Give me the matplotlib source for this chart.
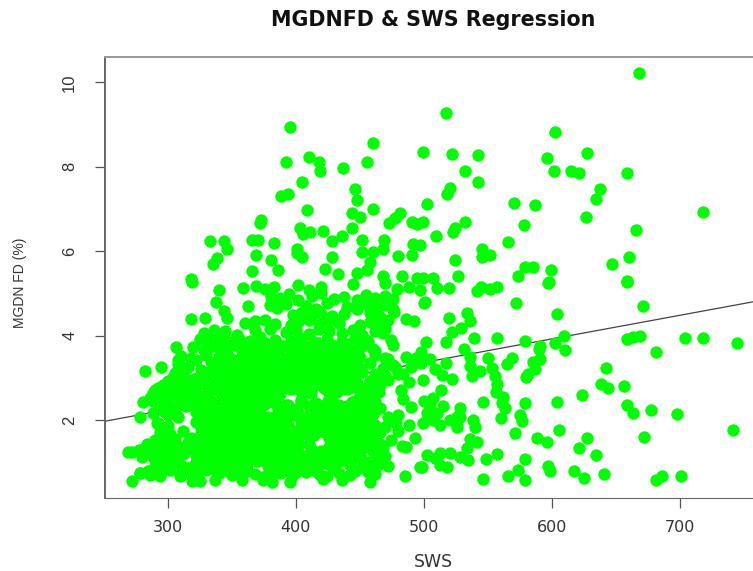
import matplotlib
matplotlib.use("Agg")
import matplotlib.pyplot as plt

plt.rcParams['font.family'] = ['Liberation Sans', 'DejaVu Sans']

X_TICKS = [300, 400, 500, 600, 700]
Y_TICKS = [2, 4, 6, 8, 10]

# regression line
FIT_INTERCEPT = 0.567
FIT_SLOPE = 0.00559

# sparse points, upper left part
sws_upper_left = [395.3, 460.6, 392.4, 410.1, 418.4, 419.0, 437.1, 455.6, 405.1, 394.2, 388.5, 446.5, 447.5,
                  408.5, 460.6, 444.2, 450.2, 481.4, 477.5, 473.0, 490.5, 494.4, 372.6, 372.1, 403.3, 406.0,
                  411.1, 421.5, 443.6, 435.8, 428.0, 451.5, 469.0, 333.0, 344.0, 346.0, 365.6, 370.8, 383.3,
                  491.8, 401.2, 400.7, 404.6, 369.0, 338.3, 335.1, 380.7, 385.9, 366.1, 428.0, 451.5, 460.6,
                  468.4, 480.1, 491.0, 458.0, 455.4, 422.8, 433.2, 447.6, 468.4, 482.7, 494.4, 318.0]
fd_upper_left = [8.93, 8.56, 8.11, 8.22, 8.12, 7.91, 7.96, 8.11, 7.63, 7.35, 7.31, 7.48, 7.20,
                 6.97, 7.00, 6.91, 6.82, 6.90, 6.79, 6.66, 6.68, 6.64, 6.74, 6.66, 6.54, 6.40,
                 6.45, 6.48, 6.54, 6.36, 6.25, 6.26, 6.27, 6.23, 6.25, 6.05, 6.27, 6.27, 6.19,
                 6.17, 6.05, 5.95, 5.85, 5.91, 5.83, 5.69, 5.79, 5.55, 5.53, 5.85, 5.99, 5.97,
                 6.05, 5.89, 5.91, 5.75, 5.55, 5.58, 5.46, 5.49, 5.40, 5.41, 5.36, 5.34]

# sparse points, upper right part
sws_upper_right = [668.2, 517.3, 602.6, 499.0, 522.2, 542.2, 627.3, 595.8, 532.3, 542.2, 601.3, 614.8, 621.3,
                   658.8, 637.7, 634.1, 520.4, 518.3, 502.4, 570.1, 587.0, 718.1, 626.3, 499.6, 532.1, 524.3,
                   523.0, 578.4, 665.6, 509.2, 565.4, 497.0, 545.1, 551.6, 545.6, 524.0, 660.4, 647.1, 579.0,
                   585.0, 599.5, 573.7, 526.4, 507.4, 499.6, 598.0, 658.3]
fd_upper_right = [10.23, 9.27, 8.83, 8.34, 8.29, 8.27, 8.33, 8.20, 7.91, 7.64, 7.89, 7.91, 7.84,
                  7.85, 7.47, 7.23, 7.49, 7.36, 7.11, 7.15, 7.09, 6.93, 6.81, 6.70, 6.70, 6.54,
                  6.46, 6.61, 6.49, 6.37, 6.22, 6.15, 6.04, 5.92, 5.85, 5.79, 5.85, 5.70, 5.63,
                  5.62, 5.55, 5.40, 5.40, 5.37, 5.37, 5.28, 5.30]

# sparse points, lower right part
sws_lower_right = [597.1, 658.8, 544.6, 541.2, 551.6, 556.8, 510.0, 519.9, 500.6, 572.2, 670.8, 603.9, 533.4,
                   536.0, 519.6, 528.7, 521.7, 609.4, 668.7, 663.5, 658.3, 703.6, 717.9, 744.4, 539.4, 557.3,
                   517.3, 501.6, 579.2, 602.3, 590.6, 590.1, 610.4, 681.2, 531.6, 536.0, 550.3, 504.8, 517.3,
                   568.5, 565.1, 590.6, 584.9, 586.7, 581.5, 579.7, 641.9, 536.0, 543.8, 537.3, 552.9, 508.7,
                   513.9, 521.7, 555.5, 557.3, 638.3, 644.0, 656.2, 556.3, 562.0, 513.1, 507.4, 499.6, 623.7,
                   546.4, 579.2, 603.9, 560.7, 563.3, 658.8, 677.3, 663.5, 697.3, 575.0, 560.2, 576.3, 528.2,
                   528.2, 538.6, 539.9, 525.6, 741.6, 605.2, 571.1, 671.8, 627.3, 588.0, 595.8, 621.1, 634.3,
                   536.0, 541.7, 533.4, 557.3, 548.5, 578.7, 597.1, 598.4, 573.7, 566.0, 617.2, 625.0, 640.3,
                   545.9, 579.2, 685.6, 681.0, 700.7, 534.7, 528.2, 520.4, 512.6, 502.2, 517.8, 512.6, 498.3,
                   508.7, 502.2, 507.4, 510.0, 515.2, 504.8, 499.6, 512.6, 520.4, 525.6]
fd_lower_right = [5.24, 5.28, 5.16, 5.06, 5.10, 5.14, 5.12, 5.13, 4.79, 4.76, 4.71, 4.52, 4.54,
                  4.35, 4.41, 4.19, 4.08, 4.00, 4.00, 3.97, 3.91, 3.93, 3.94, 3.83, 3.95, 3.95,
                  3.84, 3.84, 3.87, 3.82, 3.76, 3.67, 3.65, 3.62, 3.68, 3.50, 3.47, 3.45, 3.36,
                  3.46, 3.33, 3.45, 3.38, 3.21, 3.10, 3.01, 3.23, 3.27, 3.17, 3.04, 3.22, 3.20,
                  3.07, 2.96, 3.03, 2.85, 2.84, 2.75, 2.80, 2.67, 2.55, 2.70, 2.51, 2.95, 2.59,
                  2.42, 2.41, 2.42, 2.40, 2.28, 2.36, 2.23, 2.16, 2.13, 2.12, 2.04, 1.98, 2.28,
                  2.08, 2.00, 1.84, 1.84, 1.75, 1.76, 1.69, 1.60, 1.57, 1.57, 1.47, 1.34, 1.17,
                  1.54, 1.47, 1.33, 1.19, 1.08, 1.07, 0.91, 0.78, 0.82, 0.67, 0.78, 0.63, 0.73,
                  0.61, 0.58, 0.67, 0.57, 0.67, 1.04, 1.13, 1.21, 1.21, 1.17, 0.88, 0.93, 0.88,
                  1.09, 2.16, 2.00, 2.16, 2.32, 2.32, 1.92, 1.88, 2.00, 2.08]

# sparse points around the edge of the main cloud
sws_edge = [318.8, 340.1, 337.5, 344.0, 346.6, 363.0, 318.0, 329.2, 306.3, 282.3, 294.8, 278.4, 281.0, 288.8,
            298.0, 288.8, 291.4, 292.7, 288.8, 308.3, 269.3, 277.9, 272.4, 278.4, 284.9, 294.0, 309.6, 318.8,
            325.3, 337.0, 357.8, 374.7, 381.2, 395.5, 421.5, 435.8, 458.0, 485.3, 497.0, 493.1, 480.1, 482.7]
fd_edge = [5.28, 5.07, 4.79, 4.57, 4.41, 4.70, 4.39, 4.41, 3.72, 3.17, 3.26, 2.06, 2.43, 2.45,
           2.18, 2.16, 1.92, 2.75, 2.63, 3.42, 1.23, 1.29, 0.55, 0.74, 0.78, 0.68, 0.66, 0.56,
           0.56, 0.58, 0.58, 0.58, 0.54, 0.54, 0.60, 0.58, 0.54, 0.67, 0.88, 1.57, 1.74, 1.39]

# the dense cloud, read band by band from top to bottom
sws_cloud = [359, 369, 376, 383, 402, 410, 420, 445, 470, 479, 488, 497,
             381, 388, 395, 402, 413, 420, 430, 438, 448, 455, 462, 470, 476, 500,
             380, 385, 392, 408, 416, 424, 440, 448, 455, 463, 470, 476,
             398, 404, 412, 420, 428, 438, 458, 466, 477,
             360, 368, 376, 384, 396, 402, 410, 418, 426, 434, 450, 458, 466, 472, 486, 492,
             328, 336, 345, 354, 368, 380, 392, 400, 410, 418, 426, 436, 445, 452, 462, 470,
             325, 332, 340, 348, 356, 364, 372, 384, 396, 404, 414, 424, 436, 446, 456,
             320, 328, 336, 346, 358, 368, 376, 384, 392, 408, 416, 424, 432, 444, 452, 460, 476, 498,
             310, 318, 330, 340, 350, 358, 366, 374, 382, 390, 398, 406, 414, 424, 432, 440, 450, 462, 472, 486, 494,
             308, 316, 336, 344, 352, 360, 368, 376, 384, 392, 400, 408, 416, 424, 432, 440, 458, 468, 476, 490, 498,
             306, 312, 332, 342, 350, 358, 366, 374, 382, 392, 398, 406, 414, 422, 430, 438, 445, 452, 462, 470, 480,
             300, 308, 316, 326, 336, 346, 354, 362, 370, 378, 386, 394, 402, 410, 418, 426, 434, 442, 448, 458, 466, 488,
             290, 298, 306, 314, 322, 338, 348, 356, 364, 372, 380, 388, 396, 404, 412, 424, 432, 440, 450, 458, 465,
             286, 294, 302, 310, 318, 326, 334, 344, 352, 360, 368, 376, 384, 404, 426, 446, 454, 462, 484, 500,
             296, 306, 314, 322, 330, 340, 348, 356, 364, 372, 390, 400, 410, 420, 430, 440, 450, 458, 466, 490,
             300, 308, 328, 336, 344, 352, 360, 368, 378, 388, 398, 408, 416, 424, 436, 444, 452, 460, 472, 480,
             292, 300, 322, 330, 338, 346, 354, 362, 370, 378, 386, 404, 412, 420, 428, 438, 446, 454, 462, 470, 478, 488,
             294, 302, 312, 326, 334, 342, 350, 358, 366, 374, 382, 390, 398, 406, 414, 422, 430, 442, 450, 458, 466,
             290, 298, 306, 316, 326, 334, 342, 350, 358, 366, 374, 382, 390, 398, 410, 430, 440, 450, 458, 466, 474,
             272, 280, 290, 298, 306, 314, 322, 330, 338, 346, 354, 362, 370, 378, 386, 394, 402, 412, 420, 428, 436, 444, 452, 460, 468, 486,
             280, 290, 298, 306, 326, 334, 342, 350, 358, 366, 374, 382, 390, 398, 406, 414, 422, 430, 438, 446, 462, 470,
             290, 298, 310, 318, 326, 334, 342, 350, 358, 378, 386, 394, 402, 410, 418, 430, 442, 452, 460, 472,
             278, 286, 295, 310, 320, 340, 350, 360, 368, 376, 388, 398, 408, 418, 424, 434, 442, 456, 462]
fd_cloud = [5.12, 5.18, 5.10, 5.16, 5.20, 5.08, 5.14, 5.22, 5.24, 5.10, 5.16, 5.08,
            4.92, 4.88, 4.98, 4.84, 4.94, 5.00, 4.86, 4.92, 4.84, 4.96, 4.88, 4.94, 4.86, 4.78,
            4.72, 4.66, 4.74, 4.70, 4.64, 4.76, 4.68, 4.62, 4.74, 4.66, 4.72, 4.62,
            4.48, 4.54, 4.44, 4.50, 4.46, 4.50, 4.54, 4.44, 4.56,
            4.30, 4.34, 4.36, 4.28, 4.24, 4.32, 4.36, 4.26, 4.34, 4.30, 4.24, 4.32, 4.28, 4.36, 4.38, 4.34,
            4.06, 4.14, 4.10, 4.02, 4.12, 4.16, 4.08, 4.14, 4.04, 4.16, 4.10, 4.06, 4.14, 4.02, 4.10, 4.16,
            3.92, 3.86, 3.94, 3.84, 3.92, 3.88, 3.96, 3.90, 3.86, 3.94, 3.84, 3.92, 3.88, 3.94, 3.86,
            3.72, 3.66, 3.74, 3.68, 3.64, 3.72, 3.66, 3.74, 3.76, 3.68, 3.72, 3.64, 3.70, 3.66, 3.74, 3.68, 3.78, 3.62,
            3.52, 3.46, 3.54, 3.48, 3.44, 3.52, 3.46, 3.54, 3.48, 3.44, 3.52, 3.46, 3.56, 3.50, 3.44, 3.52, 3.48, 3.54, 3.44, 3.50, 3.46,
            3.32, 3.26, 3.34, 3.28, 3.24, 3.32, 3.26, 3.34, 3.28, 3.36, 3.30, 3.24, 3.32, 3.26, 3.34, 3.28, 3.36, 3.24, 3.30, 3.26, 3.34,
            3.12, 3.06, 3.14, 3.08, 3.04, 3.12, 3.06, 3.14, 3.08, 3.04, 3.12, 3.06, 3.14, 3.08, 3.04, 3.12, 3.06, 3.14, 3.08, 3.04, 3.10,
            2.92, 2.86, 2.94, 2.88, 2.84, 2.92, 2.86, 2.94, 2.88, 2.84, 2.92, 2.86, 2.94, 2.88, 2.84, 2.92, 2.86, 2.94, 2.88, 2.92, 2.86, 2.90,
            2.72, 2.66, 2.74, 2.68, 2.64, 2.72, 2.66, 2.74, 2.68, 2.64, 2.72, 2.66, 2.74, 2.68, 2.64, 2.72, 2.66, 2.74, 2.68, 2.72, 2.66,
            2.52, 2.46, 2.54, 2.48, 2.44, 2.52, 2.46, 2.54, 2.48, 2.44, 2.52, 2.46, 2.54, 2.48, 2.52, 2.46, 2.54, 2.44, 2.50, 2.46,
            2.32, 2.26, 2.34, 2.28, 2.24, 2.32, 2.26, 2.34, 2.28, 2.24, 2.32, 2.26, 2.34, 2.28, 2.24, 2.32, 2.26, 2.34, 2.28, 2.30,
            2.12, 2.06, 2.14, 2.08, 2.04, 2.12, 2.06, 2.14, 2.08, 2.04, 2.12, 2.06, 2.14, 2.08, 2.04, 2.12, 2.06, 2.14, 2.08, 2.12,
            1.92, 1.86, 1.94, 1.88, 1.84, 1.92, 1.86, 1.94, 1.88, 1.84, 1.92, 1.86, 1.94, 1.88, 1.84, 1.92, 1.86, 1.94, 1.88, 1.84, 1.92, 1.88,
            1.72, 1.66, 1.74, 1.68, 1.64, 1.72, 1.66, 1.74, 1.68, 1.64, 1.72, 1.66, 1.74, 1.68, 1.64, 1.72, 1.66, 1.74, 1.68, 1.64, 1.72,
            1.52, 1.46, 1.54, 1.48, 1.44, 1.52, 1.46, 1.54, 1.48, 1.44, 1.52, 1.46, 1.54, 1.48, 1.44, 1.52, 1.46, 1.54, 1.48, 1.44, 1.52,
            1.24, 1.28, 1.32, 1.26, 1.34, 1.28, 1.24, 1.32, 1.26, 1.34, 1.28, 1.24, 1.32, 1.26, 1.34, 1.28, 1.24, 1.32, 1.26, 1.34, 1.28, 1.24, 1.32, 1.26, 1.34, 1.36,
            1.12, 1.06, 1.14, 1.08, 1.12, 1.06, 1.14, 1.08, 1.04, 1.12, 1.06, 1.14, 1.08, 1.04, 1.12, 1.06, 1.14, 1.08, 1.04, 1.12, 1.06, 1.14,
            0.92, 0.86, 0.94, 0.88, 0.84, 0.92, 0.86, 0.94, 0.88, 0.92, 0.86, 0.94, 0.88, 0.84, 0.92, 0.86, 0.94, 0.88, 0.84, 0.92,
            0.74, 0.70, 0.76, 0.72, 0.68, 0.74, 0.70, 0.76, 0.72, 0.68, 0.74, 0.70, 0.76, 0.72, 0.68, 0.74, 0.70, 0.76, 0.72]

# more points where the cloud is solid green in the reference
sws_solid = [340, 352, 360, 368, 376, 388, 400, 410, 418, 428, 440, 450,
             330, 342, 346, 362, 370, 378, 386, 396, 404, 412, 420, 428, 438, 448,
             322, 334, 345, 354, 362, 370, 378, 386, 394, 402, 410, 418, 428, 436, 446,
             312, 326, 338, 346, 354, 362, 370, 378, 388, 396, 402, 410, 418, 426, 434, 442, 450,
             304, 312, 322, 330, 340, 350, 358, 366, 374, 382, 390, 398, 406, 414, 422, 430, 438, 446,
             296, 304, 312, 320, 330, 342, 350, 358, 366, 374, 382, 390, 398, 406, 414, 422, 430, 444, 456,
             290, 298, 306, 314, 322, 330, 342, 350, 358, 366, 374, 382, 388, 408, 428, 450, 458,
             300, 310, 318, 326, 334, 344, 352, 360, 368, 376, 384, 394, 404, 414, 424, 434, 444, 454,
             304, 322, 332, 340, 348, 356, 364, 372, 392, 402, 412, 420, 438, 446, 454,
             326, 334, 342, 350, 358, 366, 374, 382, 390, 404, 412, 420, 432, 440, 448, 456,
             296, 326, 334, 342, 350, 358, 366, 374, 382, 404, 412, 422, 432, 440, 448, 456, 464,
             298, 318, 330, 338, 346, 354, 362, 370, 378, 386, 394, 402, 410, 426, 438, 446, 454, 462,
             284, 294, 302, 310, 320, 330, 338, 346, 354, 362, 370, 378, 386, 394, 402, 426, 436, 444, 452, 460,
             286, 294, 302, 312, 322, 330, 338, 346, 354, 362, 370, 378, 386, 394, 402, 410, 418, 426, 434, 442, 450, 466,
             294, 304, 322, 330, 338, 346, 354, 362, 370, 378, 386, 394, 402, 410, 418, 426, 434, 442, 456, 466,
             302, 316, 330, 338, 346, 354, 362, 384, 392, 400, 408, 416, 446, 456,
             386, 392, 384, 396, 422, 428, 416, 432, 394, 388, 418, 424, 468, 474, 462, 470, 478, 484, 472, 482]
fd_solid = [3.82, 3.78, 3.80, 3.76, 3.82, 3.78, 3.80, 3.76, 3.82, 3.78, 3.80, 3.76,
            3.62, 3.58, 3.54, 3.60, 3.56, 3.62, 3.58, 3.60, 3.56, 3.62, 3.58, 3.60, 3.56, 3.62,
            3.42, 3.38, 3.40, 3.36, 3.42, 3.38, 3.40, 3.36, 3.42, 3.38, 3.40, 3.36, 3.42, 3.38, 3.40,
            3.22, 3.18, 3.20, 3.16, 3.22, 3.18, 3.20, 3.16, 3.22, 3.18, 3.20, 3.16, 3.22, 3.18, 3.20, 3.16, 3.22,
            3.02, 2.98, 3.00, 2.96, 3.02, 2.98, 3.00, 2.96, 3.02, 2.98, 3.00, 2.96, 3.02, 2.98, 3.00, 2.96, 3.02, 2.98,
            2.82, 2.78, 2.80, 2.76, 2.82, 2.78, 2.80, 2.76, 2.82, 2.78, 2.80, 2.76, 2.82, 2.78, 2.80, 2.76, 2.82, 2.78, 2.80,
            2.62, 2.58, 2.60, 2.56, 2.62, 2.58, 2.60, 2.56, 2.62, 2.58, 2.60, 2.56, 2.62, 2.70, 2.72, 2.62, 2.58,
            2.42, 2.38, 2.40, 2.36, 2.42, 2.38, 2.40, 2.36, 2.42, 2.38, 2.40, 2.36, 2.42, 2.38, 2.40, 2.36, 2.42, 2.38,
            2.22, 2.18, 2.20, 2.16, 2.22, 2.18, 2.20, 2.16, 2.22, 2.18, 2.20, 2.16, 2.22, 2.18, 2.20,
            2.02, 1.98, 2.00, 1.96, 2.02, 1.98, 2.00, 1.96, 2.02, 1.98, 2.00, 1.96, 2.02, 1.98, 2.00, 1.96,
            1.76, 1.82, 1.78, 1.80, 1.76, 1.82, 1.78, 1.80, 1.76, 1.82, 1.78, 1.80, 1.76, 1.82, 1.78, 1.80, 1.76,
            1.62, 1.58, 1.60, 1.56, 1.62, 1.58, 1.60, 1.56, 1.62, 1.58, 1.60, 1.56, 1.62, 1.58, 1.60, 1.56, 1.62, 1.58,
            1.42, 1.38, 1.40, 1.36, 1.42, 1.38, 1.40, 1.36, 1.42, 1.38, 1.40, 1.36, 1.42, 1.38, 1.40, 1.36, 1.42, 1.38, 1.40, 1.36,
            1.18, 1.22, 1.18, 1.20, 1.16, 1.22, 1.18, 1.20, 1.16, 1.22, 1.18, 1.20, 1.16, 1.22, 1.18, 1.20, 1.16, 1.22, 1.18, 1.20, 1.16, 1.22,
            1.02, 0.98, 1.00, 0.96, 1.02, 0.98, 1.00, 0.96, 1.02, 0.98, 1.00, 0.96, 1.02, 0.98, 1.00, 0.96, 1.02, 0.98, 1.00, 0.96,
            0.82, 0.80, 0.82, 0.78, 0.80, 0.76, 0.82, 0.78, 0.80, 0.76, 0.82, 0.78, 0.80, 0.78,
            2.26, 2.36, 2.08, 2.14, 2.30, 2.42, 2.40, 2.24, 1.88, 1.76, 1.90, 1.74, 4.06, 3.90, 3.64, 3.46, 3.22, 3.10, 2.94, 2.72]

sws = sws_upper_left + sws_upper_right + sws_lower_right + sws_edge + sws_cloud + sws_solid
mgdn_fd = fd_upper_left + fd_upper_right + fd_lower_right + fd_edge + fd_cloud + fd_solid

fig = plt.figure(figsize=(7.53, 5.71), dpi=100)
ax = fig.add_axes([105 / 753, 73 / 571, 648 / 753, 441 / 571])

# line first so the points sit on top of it
ax.axline((0, FIT_INTERCEPT), slope=FIT_SLOPE, color="#444444", linewidth=0.9, zorder=1)
ax.scatter(sws, mgdn_fd, s=80, color="#00ff00", linewidths=0, zorder=2)

ax.set_xlim(251, 757)
ax.set_ylim(0.15, 10.6)
ax.set_xticks(X_TICKS)
ax.set_yticks(Y_TICKS)
ax.tick_params(axis="both", length=7, width=0.9, color="#555555", labelcolor="#333333")
ax.tick_params(axis="x", pad=9)
ax.tick_params(axis="y", pad=13)
for label in ax.get_xticklabels():
    label.set_family("DejaVu Sans")
    label.set_fontsize(11.5)
for label in ax.get_yticklabels():
    label.set_rotation(90)
    label.set_verticalalignment("center")
    label.set_fontsize(12)

# R style box, the right side is cut off in the picture
ax.spines["right"].set_visible(False)
ax.spines["top"].set_color("#999999")
ax.spines["top"].set_linewidth(1.4)
ax.spines["left"].set_color("#666666")
ax.spines["left"].set_linewidth(1.4)
ax.spines["bottom"].set_color("#666666")

fig.text(433 / 753, 1 - 20 / 571, "MGDNFD & SWS Regression", ha="center", va="center",
         fontsize=14.9, fontweight="bold", color="#111111", family="DejaVu Sans")
fig.text(433 / 753, 1 - 562 / 571, "SWS", ha="center", va="center", fontsize=12.5,
         color="#333333", family="DejaVu Sans")
fig.text(20 / 753, 1 - 283 / 571, "MGDN FD (%)", ha="center", va="center", rotation=90,
         fontsize=10, color="#333333")

plt.savefig("out.png", dpi=100)
